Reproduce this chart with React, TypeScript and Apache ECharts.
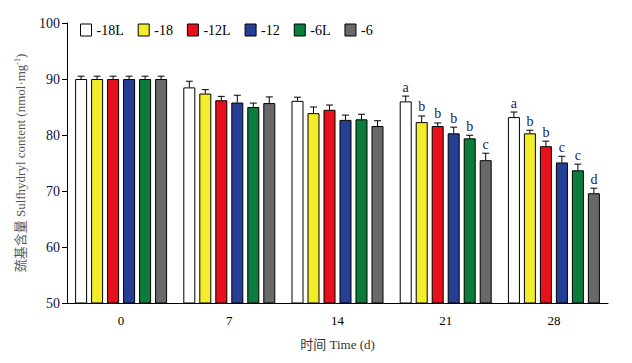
import React, { useEffect, useRef } from "react";
import * as echarts from "echarts";

const categories = ["0", "7", "14", "21", "28"];
const seriesNames = ["-18L", "-18", "-12L", "-12", "-6L", "-6"];
const seriesColors = ["#ffffff", "#f2ec2a", "#e8101a", "#263f96", "#0a7d3a", "#696969"];

const v18L = [90.0, 88.5, 86.1, 86.0, 83.2];
const v18 = [90.0, 87.4, 83.9, 82.3, 80.3];
const v12L = [90.0, 86.2, 84.5, 81.6, 78.0];
const v12 = [90.0, 85.8, 82.7, 80.3, 75.1];
const v6L = [90.0, 85.0, 82.8, 79.4, 73.7];
const v6 = [90.0, 85.7, 81.6, 75.5, 69.6];

const e18L = [0.5, 1.1, 0.65, 0.95, 0.9];
const e18 = [0.5, 0.7, 1.1, 1.1, 0.55];
const e12L = [0.5, 0.7, 0.85, 0.55, 0.9];
const e12 = [0.5, 1.3, 0.85, 1.1, 1.1];
const e6L = [0.5, 0.7, 0.9, 0.55, 1.1];
const e6 = [0.5, 1.1, 0.95, 1.25, 0.9];

const l18L = ["", "", "", "a", "a"];
const l18 = ["", "", "", "b", "b"];
const l12L = ["", "", "", "b", "b"];
const l12 = ["", "", "", "b", "c"];
const l6L = ["", "", "", "b", "c"];
const l6 = ["", "", "", "c", "d"];

const values = [v18L, v18, v12L, v12, v6L, v6];
const errors = [e18L, e18, e12L, e12, e6L, e6];
const letters = [l18L, l18, l12L, l12, l6L, l6];

const yTicks = { min: 50, max: 100, interval: 10 };

const SERIF = "Liberation Serif, Times New Roman, Noto Sans CJK SC, serif";

export default function App() {
  const ref = useRef<HTMLDivElement>(null);
  useEffect(() => {
    if (!ref.current) return;
    const chart = echarts.init(ref.current, undefined, { renderer: "svg" });
    const barWidth = 12;
    const stride = 16;
    const n = seriesNames.length;

    const barSeries = seriesNames.map((name, i) => ({
      name,
      type: "bar",
      data: values[i],
      barWidth,
      barGap: "33.3%",
      itemStyle: { color: seriesColors[i], borderColor: "#000", borderWidth: 1 },
      z: 2,
    }));

    const errSeries = seriesNames.map((name, i) => ({
      name: name + "_err",
      type: "custom",
      coordinateSystem: "cartesian2d",
      data: values[i].map((v, k) => [k, v, errors[i][k]]),
      z: 5,
      silent: true,
      renderItem: (params: any, api: any) => {
        const k = api.value(0);
        const v = api.value(1);
        const e = api.value(2);
        const idx = params.dataIndex;
        const letter = letters[i][idx];
        const base = api.coord([k, v]);
        const top = api.coord([k, v + e]);
        const x = base[0] + (i - (n - 1) / 2) * stride;
        const cap = 3.5;
        const children: any[] = [
          {
            type: "line",
            shape: { x1: x, y1: base[1], x2: x, y2: top[1] },
            style: { stroke: "#000", lineWidth: 1 },
          },
          {
            type: "line",
            shape: { x1: x - cap, y1: top[1], x2: x + cap, y2: top[1] },
            style: { stroke: "#000", lineWidth: 1 },
          },
        ];
        if (letter) {
          children.push({
            type: "text",
            x: x,
            y: top[1] - 2,
            style: {
              text: letter,
              fill: "#1a1a5c",
              fontSize: 14,
              fontFamily: SERIF,
              align: "center",
              verticalAlign: "bottom",
            },
          });
        }
        return { type: "group", children };
      },
    }));

    chart.setOption({
      animation: false,
      backgroundColor: "#ffffff",
      grid: { left: 67, right: 24, top: 23, bottom: 60 },
      legend: {
        data: seriesNames,
        left: 80,
        top: 23,
        itemWidth: 11,
        itemHeight: 12,
        itemGap: 14,
        icon: "rect",
        textStyle: { fontFamily: SERIF, fontSize: 14, color: "#000" },
        itemStyle: { borderColor: "#000", borderWidth: 1 },
        padding: 0,
      },
      xAxis: {
        type: "category",
        data: categories,
        axisLine: { lineStyle: { color: "#000", width: 1 } },
        axisTick: { show: false },
        axisLabel: { fontFamily: SERIF, fontSize: 13, color: "#000", margin: 11 },
        name: "时间 Time (d)",
        nameLocation: "middle",
        nameGap: 35,
        nameTextStyle: { fontFamily: SERIF, fontSize: 13, color: "#333" },
      },
      yAxis: {
        type: "value",
        min: yTicks.min,
        max: yTicks.max,
        interval: yTicks.interval,
        splitLine: { show: false },
        axisLine: { show: true, lineStyle: { color: "#000", width: 1 } },
        axisTick: { show: true, inside: false, length: 5, lineStyle: { color: "#000" } },
        axisLabel: { fontFamily: SERIF, fontSize: 14, color: "#10103a", margin: 7 },
        name: "{a|巯基含量 Sulfhydryl content (nmol·mg}{s|-1}{a|)}",
        nameLocation: "middle",
        nameGap: 40,
        nameTextStyle: {
          fontFamily: SERIF,
          fontSize: 13,
          color: "#555",
          rich: {
            a: { fontFamily: SERIF, fontSize: 13, color: "#555" },
            s: { fontFamily: SERIF, fontSize: 8, color: "#555", verticalAlign: "top", padding: [0, 0, 6, 0] },
          },
        },
      },
      series: [...barSeries, ...errSeries],
    });
    return () => chart.dispose();
  }, []);
  return (
    <div
      ref={ref}
      style={{ position: "fixed", left: 0, top: 0, width: 632, height: 363, background: "#fff" }}
    />
  );
}
